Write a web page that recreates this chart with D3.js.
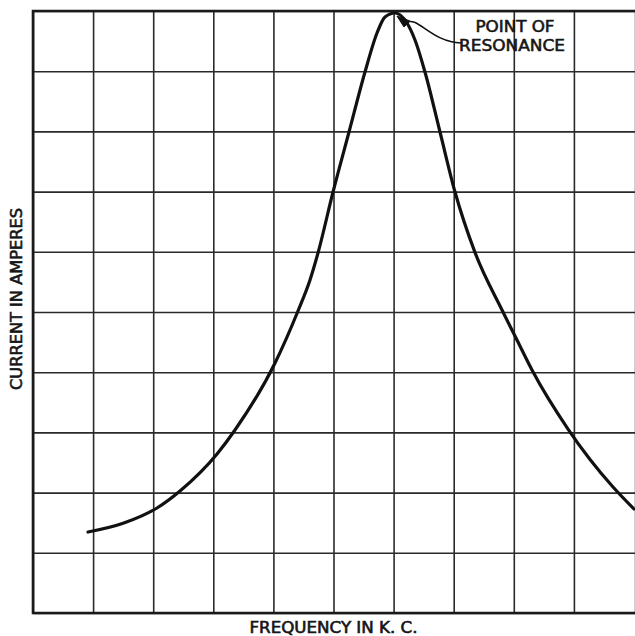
<!DOCTYPE html>
<html><head><meta charset="utf-8">
<script src="https://cdn.jsdelivr.net/npm/d3@7"></script>
<style>
html,body{margin:0;padding:0;background:#fff;}
svg{display:block;}
text{font-family:"DejaVu Sans Condensed","DejaVu Sans",sans-serif;fill:#161616;stroke:#161616;stroke-width:0.55px;}
</style></head>
<body>
<script>
// Grid units (unlabelled axes)
const xGrid = [0,1,2,3,4,5,6,7,8,9,10];
const yGrid = [0,1,2,3,4,5,6,7,8,9,10];
// Resonance curve: frequency (grid units) vs current (grid units)
const frequency = [0.915,1.50,2.063,2.446,3.062,3.361,4.027,4.409,4.609,4.742,4.992,5.258,5.524,5.724,5.857,6.023,6.223,6.356,6.522,6.772,7.022,7.354,7.804,8.053,8.303,8.902,9.651,10.0];
const current   = [1.345,1.49,1.744,2.027,2.641,3.040,4.153,5.017,5.532,5.980,6.993,7.990,8.987,9.635,9.900,9.967,9.801,9.518,8.987,7.990,6.993,5.990,5.033,4.535,4.037,3.056,2.093,1.728];
const peakIndex = 15;
const xLabel = "FREQUENCY IN K. C.";
const yLabel = "CURRENT IN AMPERES";
const annot = ["POINT OF","RESONANCE"];

const W=635,H=636;
const m={left:33,top:11};
const pw=601, ph=602;
const svg=d3.select("body").append("svg").attr("width",W).attr("height",H);
const x=d3.scaleLinear().domain([0,10]).range([m.left,m.left+pw]);
const y=d3.scaleLinear().domain([0,10]).range([m.top+ph,m.top]);

const g=svg.append("g");
// vertical grid
g.append("g").attr("transform",`translate(0,${y(0)})`)
  .call(d3.axisBottom(x).tickValues(xGrid).tickSize(-ph).tickFormat(""))
  .call(a=>{a.select(".domain").remove();
    a.selectAll("line").attr("stroke",d=>d===10?"#cfcfcf":"#2a2a2a").attr("stroke-width",d=>d===10?1:1.6);});
// horizontal grid
g.append("g").attr("transform",`translate(${x(0)},0)`)
  .call(d3.axisLeft(y).tickValues(yGrid).tickSize(-(pw+4)).tickFormat(""))
  .call(a=>{a.select(".domain").remove();a.selectAll("line").attr("stroke","#2a2a2a").attr("stroke-width",1.6);});
// border (left, top, bottom)
g.append("path")
  .attr("d",`M${x(10)+4},${y(10)} H${x(0)} V${y(0)} H${x(10)+4}`)
  .attr("fill","none").attr("stroke","#1a1a1a").attr("stroke-width",2.6);

// curve
const pts=frequency.map((f,i)=>[f,current[i]]);
svg.append("path").datum(pts)
  .attr("d",d3.line().x(d=>x(d[0])).y(d=>y(d[1])).curve(d3.curveMonotoneX))
  .attr("fill","none").attr("stroke","#111").attr("stroke-width",3.2).attr("stroke-linecap","round");

// annotation
const px=x(frequency[peakIndex]), py=y(current[peakIndex]);
const tx=px+66, ty=py+30;
svg.append("path")
  .attr("d",`M${tx},${ty} C${tx-30},${ty-1} ${px+22},${py+2} ${px+11},${py+10}`)
  .attr("fill","none").attr("stroke","#111").attr("stroke-width",1.6);
// arrowhead
svg.append("path")
  .attr("d",`M${px+2},${py+3} L${px+15},${py+8} L${px+9},${py+14} Z`)
  .attr("fill","#111").attr("stroke","#111").attr("stroke-width",1);
svg.append("text").attr("x",px+120).attr("y",py+19).attr("text-anchor","middle")
  .attr("font-size",16).attr("textLength",79).attr("lengthAdjust","spacingAndGlyphs").text(annot[0]);
svg.append("text").attr("x",px+64).attr("y",py+38)
  .attr("font-size",16).attr("textLength",106).attr("lengthAdjust","spacingAndGlyphs").text(annot[1]);

// axis titles
svg.append("text").attr("x",x(5)).attr("y",633).attr("text-anchor","middle")
  .attr("font-size",15).attr("textLength",168).attr("lengthAdjust","spacingAndGlyphs").text(xLabel);
svg.append("text").attr("transform",`translate(22,${y(5)-13}) rotate(-90)`).attr("text-anchor","middle")
  .attr("font-size",16).attr("textLength",182).attr("lengthAdjust","spacingAndGlyphs").text(yLabel);
</script>
</body></html>
